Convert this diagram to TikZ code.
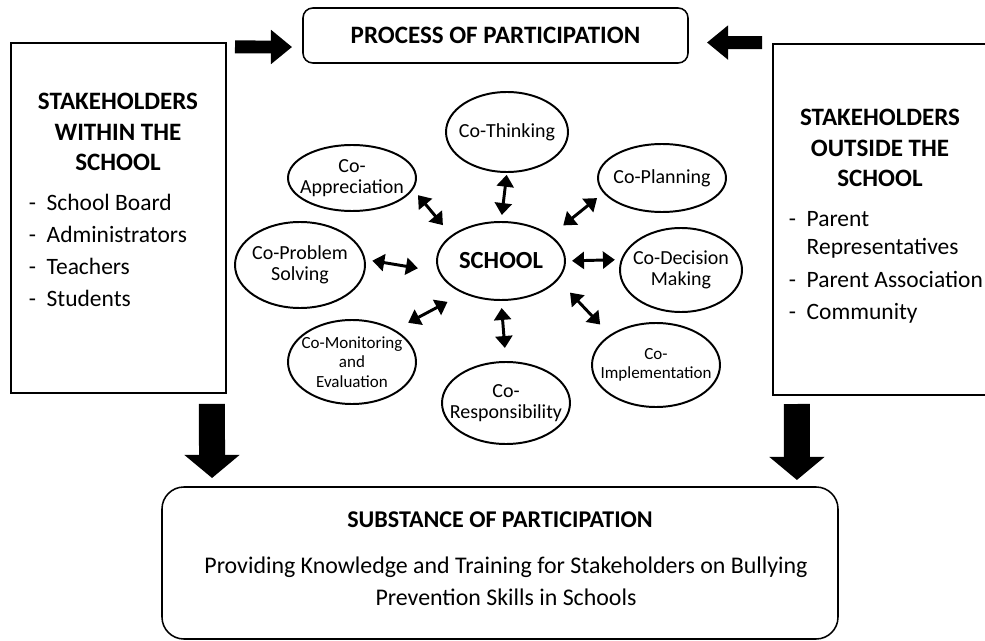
\documentclass[tikz,border=0pt]{standalone}
\usepackage{fontspec}
\setmainfont{Carlito}
\usetikzlibrary{shapes.geometric,arrows.meta}

\begin{document}
\begin{tikzpicture}
	\tikzstyle{stake}=[draw,line width=1.1pt,inner sep=0pt,outer sep=0pt,minimum width=5.375cm,minimum height=8.75cm]
	\tikzstyle{roundbox}=[draw,line width=1.1pt,rounded corners=7pt,inner sep=0pt,outer sep=0pt]
	\tikzstyle{bubble}=[ellipse,draw,line width=1.4pt,inner sep=0pt,outer sep=0pt,minimum width=3.2cm]
	\tikzstyle{head}=[align=center,font=\bfseries\fontsize{17.8}{21.5}\selectfont]
	\tikzstyle{items}=[align=left,anchor=west,font=\fontsize{16.7}{22.6}\selectfont]
	\tikzstyle{cotext}=[align=center,font=\fontsize{14.2}{15}\selectfont]
	\tikzstyle{smalltext}=[align=center,font=\fontsize{12.1}{14}\selectfont]
	\tikzstyle{link}=[{Triangle[length=8.5pt,width=12pt]}-{Triangle[length=8.5pt,width=12pt]},line width=2.1pt]
	\tikzstyle{bigarrow}=[-{Triangle[length=15pt,width=23.5pt]},line width=9.2pt]
	\tikzstyle{fatarrow}=[-{Triangle[length=16.4pt,width=38.4pt]},line width=18.5pt]
		\useasboundingbox (0, 0) rectangle (24.625, -16.025);
		\clip (0, 0) rectangle (24.625, -16.025);

		\node [style=stake] (0) at (2.9625, -5.45) {};
		\node [style=head] (1) at (2.95, -3.3) {STAKEHOLDERS\\WITHIN THE\\SCHOOL};
		\node [style=items] (2) at (0.6, -6.2625) {-\hspace{7.5pt}School Board\\-\hspace{7.5pt}Administrators\\-\hspace{7.5pt}Teachers\\-\hspace{7.5pt}Students};
		\node [style=stake, minimum width=5.675cm, minimum height=8.775cm] (3) at (22.1625, -5.4875) {};
		\node [style=head] (4) at (22.0, -3.7) {STAKEHOLDERS\\OUTSIDE THE\\SCHOOL};
		\node [style=items, font=\fontsize{16.7}{20}\selectfont] (5) at (19.6, -6.69) {-\hspace{7.5pt}Parent\\\phantom{-}\hspace{7.5pt}Representatives\\[3pt]-\hspace{7.5pt}Parent Association\\[3pt]-\hspace{7.5pt}Community};
		\node [style=roundbox, style=head, minimum width=9.625cm, minimum height=1.375cm] (6) at (12.3875, -0.8875) {PROCESS OF PARTICIPATION};
		\node [style=roundbox, rounded corners=15.6pt, minimum width=16.9cm, minimum height=3.8cm] (7) at (12.5, -14.075) {};
		\node [style=head, font=\bfseries\fontsize{17.1}{20}\selectfont] (8) at (12.5, -13.0) {SUBSTANCE OF PARTICIPATION};
		\node [align=center, font=\fontsize{17}{22.8}\selectfont] (9) at (12.65, -14.525) {Providing Knowledge and Training for Stakeholders on Bullying\\Prevention Skills in Schools};

		\node [style=bubble, minimum height=1.95cm, font=\bfseries\fontsize{17.5}{20}\selectfont] (10) at (12.525, -6.525) {SCHOOL};
		\node [style=bubble, minimum width=3.05cm, minimum height=2.0cm, label={[cotext]center:Co-Thinking}] (11) at (12.675, -3.3) {};
		\node [style=bubble, minimum height=1.7cm, label={[cotext]center:Co-Planning}] (12) at (16.55, -4.45) {};
		\node [style=bubble, minimum width=3.05cm, minimum height=2.1cm, label={[cotext]center:Co-Decision\\Making}] (13) at (17.025, -6.75) {};
		\node [style=bubble, minimum height=2.1cm, label={[smalltext]center:Co-\\Implementation}] (14) at (16.4, -9.125) {};
		\node [style=bubble, minimum height=2.05cm, label={[cotext]center:Co-\\Responsibility}] (15) at (12.65, -10.075) {};
		\node [style=bubble, minimum height=2.1cm, label={[smalltext]center:Co-Monitoring\\and\\Evaluation}] (16) at (8.8, -9.05) {};
		\node [style=bubble, minimum width=3.25cm, minimum height=2.15cm, label={[cotext]center:Co-Problem\\Solving}] (17) at (7.5, -6.625) {};
		\node [style=bubble, minimum height=1.65cm, label={[cotext]center:Co-\\Appreciation}] (18) at (8.8, -4.45) {};

		\draw [style=link, shorten <=2pt, shorten >=5pt] (11.south) to (10.north);
		\draw [style=link, shorten <=6.4pt, shorten >=12pt] (12.194) to (10.27);
		\draw [style=link, shorten <=5pt, shorten >=5pt] (13.170) to (10.0);
		\draw [style=link, shorten <=10.7pt, shorten >=13pt] (14.147) to (10.-18);
		\draw [style=link, shorten <=10pt, shorten >=5.7pt] (15.north) to (10.south);
		\draw [style=link, shorten <=11.4pt, shorten >=13.5pt] (16.37) to (10.221);
		\draw [style=link, shorten <=5.7pt, shorten >=15.6pt] (17.5) to (10.190);
		\draw [style=link, shorten <=6pt, shorten >=10pt] (18.-10) to (10.153);

		\draw [style=bigarrow] ([xshift=6.4pt, yshift=-2.8pt]0.north east) to ([xshift=-7.8pt, yshift=-8.2pt]6.west);
		\draw [style=bigarrow] ([xshift=-7.8pt, yshift=1pt]3.north west) to ([xshift=13.5pt, yshift=-5pt]6.east);
		\draw [style=fatarrow] ([xshift=-10pt, yshift=-7.8pt]0.south east) to ([xshift=35.6pt, yshift=6.4pt]7.north west);
		\draw [style=fatarrow] ([xshift=17pt, yshift=-6.4pt]3.south west) to ([xshift=-29.2pt, yshift=5pt]7.north east);

\end{tikzpicture}
\end{document}
